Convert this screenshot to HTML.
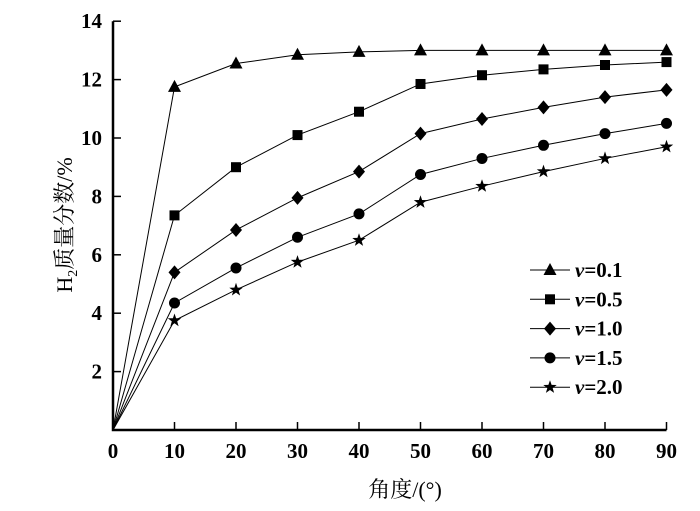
<!DOCTYPE html>
<html><head><meta charset="utf-8"><style>
body{margin:0;background:#fff}
svg text{font-family:"Liberation Serif","Noto Serif CJK SC",serif;fill:#000}
</style></head><body>
<svg id="c" width="700" height="506" viewBox="0 0 700 506"></svg>
<script>
const categories=[0,10,20,30,40,50,60,70,80,90];
const s01=[0,11.75,12.55,12.85,12.95,13,13,13,13,13];
const s05=[0,7.35,9.0,10.1,10.9,11.85,12.15,12.35,12.5,12.6];
const s10=[0,5.4,6.85,7.95,8.85,10.15,10.65,11.05,11.4,11.65];
const s15=[0,4.35,5.55,6.6,7.4,8.75,9.3,9.75,10.15,10.5];
const s20=[0,3.75,4.8,5.75,6.5,7.8,8.35,8.85,9.3,9.7];
const seriesLabels=["0.1","0.5","1.0","1.5","2.0"];
const xTicks=[0,10,20,30,40,50,60,70,80,90];
const yTicks=[2,4,6,8,10,12,14];
const NS="http://www.w3.org/2000/svg",svg=document.getElementById('c');
const X=v=>113+v*6.15, Y=v=>430-v*29.2;
function mk(t,a,p){const e=document.createElementNS(NS,t);for(const k in a)e.setAttribute(k,a[k]);(p||svg).appendChild(e);return e;}
let ax=mk('path',{d:`M${X(0)},${Y(14)}V${Y(0)}H${X(90)}`,fill:'none',stroke:'#000','stroke-width':2.5});


xTicks.forEach(v=>{
 if(v>0){let l=mk('line',{x1:X(v),x2:X(v),y1:Y(0),y2:Y(0)-8,stroke:'#000','stroke-width':1.5});
 }
 let t=mk('text',{x:X(v),y:458,'text-anchor':'middle','font-size':21,'font-weight':'bold'});t.textContent=v;
 
 
});
yTicks.forEach(v=>{
 let l=mk('line',{x1:X(0),x2:X(0)+8,y1:Y(v),y2:Y(v),stroke:'#000','stroke-width':1.5});
 
 let t=mk('text',{x:102,y:Y(v)+7,'text-anchor':'end','font-size':21,'font-weight':'bold'});t.textContent=v;
 
 
});
let xt=mk('text',{x:405,y:497,'text-anchor':'middle','font-size':22});xt.textContent='角度/(°)';

let yt=mk('text',{transform:'translate(72,225) rotate(-90)','text-anchor':'middle','font-size':22});
yt.innerHTML='H<tspan font-size="14" dy="5">2</tspan><tspan dy="-5">质量分数/%</tspan>';

function marker(type,x,y,g){
 if(type==0)return mk('polygon',{points:`${x},${y-7} ${x-6.5},${y+5} ${x+6.5},${y+5}`},g);
 if(type==1)return mk('rect',{x:x-5,y:y-5,width:10,height:10},g);
 if(type==2)return mk('polygon',{points:`${x},${y-7} ${x+6},${y} ${x},${y+7} ${x-6},${y}`},g);
 if(type==3)return mk('circle',{cx:x,cy:y,r:5.5},g);
 let p=[];for(let i=0;i<10;i++){let r=i%2?2.8:7,a=-Math.PI/2+i*Math.PI/5;p.push((x+r*Math.cos(a)).toFixed(1)+','+(y+r*Math.sin(a)).toFixed(1));}
 return mk('polygon',{points:p.join(' ')},g);
}
[s01,s05,s10,s15,s20].forEach((s,k)=>{
 let g=mk('g',{fill:'#000'});
 
 
 mk('polyline',{points:s.map((v,i)=>X(categories[i])+','+Y(v)).join(' '),fill:'none',stroke:'#000','stroke-width':1},g);
 s.forEach((v,i)=>{if(i>0){let m=marker(k,X(categories[i]),Y(v),g);
  }});
 let ly=270+k*29.3;
 let lg=mk('g',{fill:'#000'});
 
 
 mk('line',{x1:530,x2:570,y1:ly,y2:ly,stroke:'#000','stroke-width':1},lg);
 marker(k,550,ly,lg);
 let t=mk('text',{x:575,y:ly+7,'font-size':21,'font-weight':'bold'},lg);
 t.innerHTML='<tspan font-style="italic">v</tspan>=' +seriesLabels[k];
});
</script>
</body></html>
